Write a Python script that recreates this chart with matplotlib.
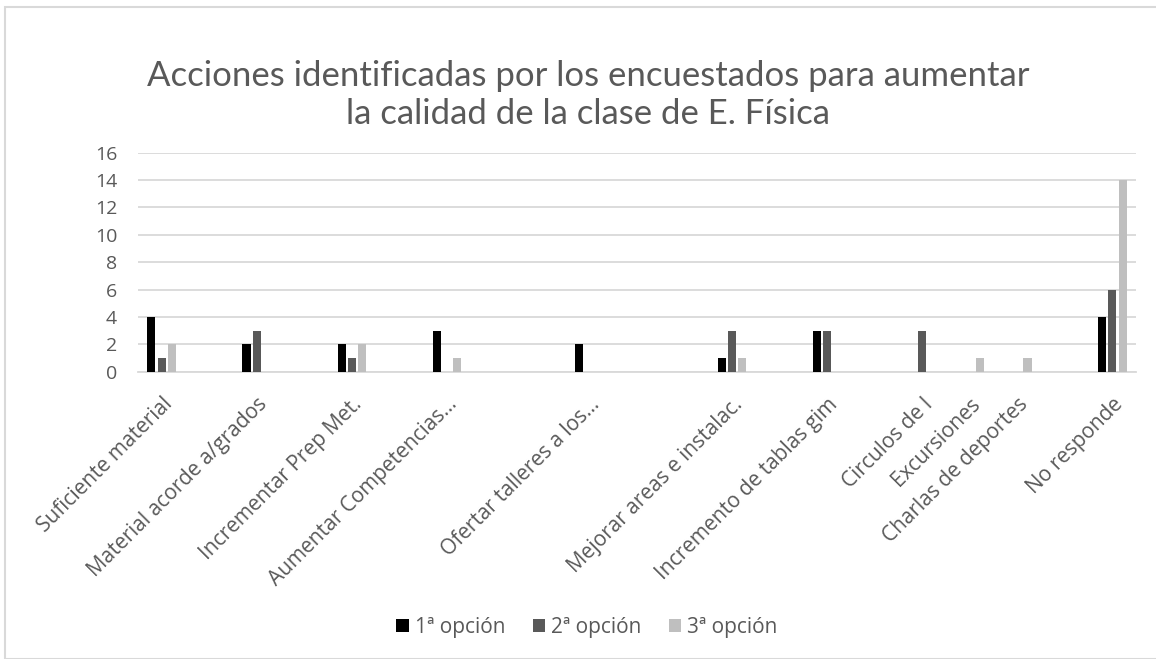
import numpy as np
import matplotlib
matplotlib.use('Agg')
import matplotlib.pyplot as plt
from matplotlib.patches import Rectangle

# Data (blank categories are empty rows in the source sheet)
categories = [
    'Suficiente material', '', 'Material acorde a/grados', '', 'Incrementar Prep Met.', '',
    'Aumentar Competencias...', '', '', 'Ofertar talleres a los...', '', '',
    'Mejorar areas e instalac.', '', 'Incremento de tablas gim', '', 'Circulos de I',
    'Excursiones', 'Charlas de deportes', '', 'No responde',
]
opcion_1 = [4, 0, 2, 0, 2, 0, 3, 0, 0, 2, 0, 0, 1, 0, 3, 0, 0, 0, 0, 0, 4]
opcion_2 = [1, 0, 3, 0, 1, 0, 0, 0, 0, 0, 0, 0, 3, 0, 3, 0, 3, 0, 0, 0, 6]
opcion_3 = [2, 0, 0, 0, 2, 0, 1, 0, 0, 0, 0, 0, 1, 0, 0, 0, 0, 1, 1, 0, 14]
series_names = ['1ª opción', '2ª opción', '3ª opción']
series_colors = ['#000000', '#595959', '#bfbfbf']
yticks = [0, 2, 4, 6, 8, 10, 12, 14, 16]

W, H = 1156, 659
fig = plt.figure(figsize=(W / 100, H / 100), dpi=100)
font = ['Open Sans', 'DejaVu Sans']
title_font = ['Lato', 'DejaVu Sans']
txt = '#595959'

# chart border
fig.patches.append(Rectangle((5 / W, 0), 1.2, 1 - 7 / H, transform=fig.transFigure,
                             fill=False, edgecolor='#d9d9d9', linewidth=1.5))

ax = fig.add_axes([138 / W, 1 - 371.7 / H, (1136 - 138) / W, (371.7 - 152.7) / H])

x = np.arange(len(categories))
step = 0.217
width = 0.17
for i, (vals, name, col) in enumerate(zip([opcion_1, opcion_2, opcion_3], series_names, series_colors)):
    ax.bar(x + (i - 1) * step, vals, width=width, color=col, label=name, zorder=3)

ax.set_xlim(-0.5, len(categories) - 0.5)
ax.set_ylim(0, 16)
ax.set_yticks(yticks)
ax.set_yticklabels([str(v) for v in yticks], fontsize=14, color=txt, family=font)
ax.yaxis.grid(True, color='#d9d9d9', linewidth=1.3, zorder=0)
ax.set_axisbelow(True)
for s in ['top', 'right', 'left']:
    ax.spines[s].set_visible(False)
ax.spines['bottom'].set_color('#d9d9d9')
ax.spines['bottom'].set_linewidth(1.3)
ax.tick_params(axis='y', length=0, pad=15)
ax.tick_params(axis='x', length=0, pad=16)

ax.set_xticks(x)
ax.set_xticklabels(categories, rotation=45, ha='right', rotation_mode='anchor',
                   fontsize=15, color=txt, family=font)

fig.text(588 / W, 1 - 95 / H, 'Acciones identificadas por los encuestados para aumentar\nla calidad de la clase de E. Física',
         ha='center', va='center', fontsize=25, color=txt, family=title_font,
         linespacing=1.25)

leg = fig.legend(loc='center', bbox_to_anchor=(587 / W, 1 - 627 / H), ncol=3, frameon=False,
                 prop={'family': font, 'size': 15}, handlelength=0.6, handleheight=0.6,
                 columnspacing=1.3, handletextpad=0.3)
for t in leg.get_texts():
    t.set_color(txt)

fig.savefig('out.png', dpi=100)
